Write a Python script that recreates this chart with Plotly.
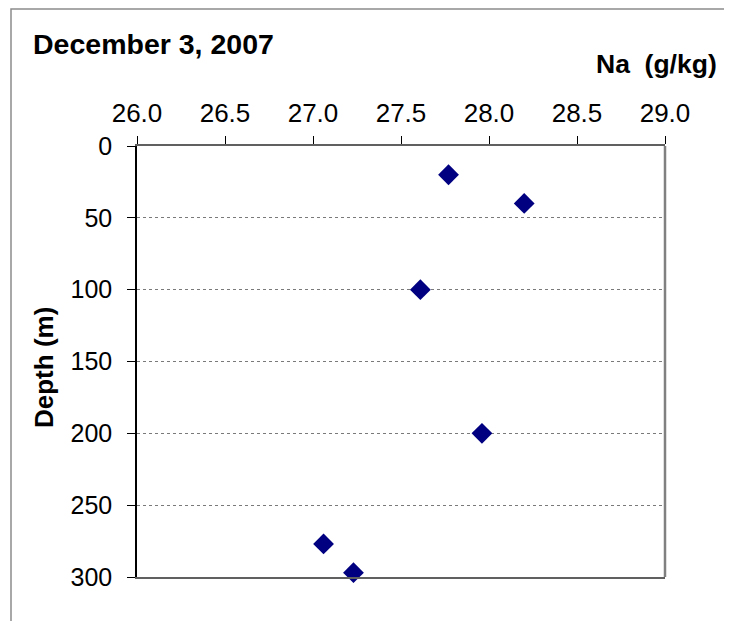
import plotly.graph_objects as go

# Data
na_values = [27.77, 28.20, 27.61, 27.96, 27.06, 27.23]
depth_values = [20, 40, 100, 200, 277, 297]
x_ticks = [26.0, 26.5, 27.0, 27.5, 28.0, 28.5, 29.0]
y_ticks = [0, 50, 100, 150, 200, 250, 300]
title_text = "December 3, 2007"
x_title = "Na\u00a0 (g/kg)"
y_title = "Depth (m)"

OFF = 8  # page body margin
W, H = 732 - OFF, 621 - OFF
# plot area in reference page pixels
PL, PR, PT, PB = 137, 665, 146, 577
L, T = PL - OFF, PT - OFF
R, B = W - (PR - OFF), H - (PB - OFF)
pw, ph = PR - PL, PB - PT

def px(xp):
    return (xp - PL) / pw

def py(yp):
    return (PB - yp) / ph

FONT = "Liberation Sans, Arial, sans-serif"

fig = go.Figure()
fig.add_trace(go.Scatter(
    x=na_values, y=depth_values, mode="markers",
    marker=dict(symbol="diamond", size=16, color="#000080", line=dict(width=0)),
    cliponaxis=False, showlegend=False,
))

fig.update_layout(
    width=W, height=H,
    margin=dict(l=L, r=R, t=T, b=B, pad=0),
    paper_bgcolor="white", plot_bgcolor="white",
    font=dict(family=FONT, size=25, color="black"),
    title=dict(text="<b>" + title_text + "</b>", x=(33 - OFF) / W, xanchor="left",
               y=1 - (44 - OFF) / H, yanchor="middle",
               font=dict(family=FONT, size=28.5, color="black")),
    xaxis=dict(side="top", range=[26, 29], tickvals=x_ticks,
               ticktext=[f"{v:.1f}" for v in x_ticks],
               showgrid=False, zeroline=False,
               showline=True, linecolor="#606060", linewidth=2, mirror=True,
               ticks="outside", ticklen=8, tickcolor="black", tickwidth=1,
               ticklabelstandoff=4,
               tickfont=dict(family=FONT, size=26, color="black")),
    yaxis=dict(range=[300, 0], tickvals=y_ticks,
               showgrid=True, gridcolor="#7a7a7a", griddash="dot", gridwidth=1,
               zeroline=False,
               showline=True, linecolor="black", linewidth=1.5, mirror=False,
               ticks="outside", ticklen=8, tickcolor="black", tickwidth=1,
               ticklabelstandoff=10,
               tickfont=dict(family=FONT, size=25, color="black")),
    shapes=[
        dict(type="line", xref="paper", yref="paper", x0=1, x1=1, y0=0, y1=1,
             line=dict(color="#808080", width=2.5), layer="between"),
        dict(type="rect", xref="paper", yref="paper",
             x0=px(11), x1=px(760), y0=py(660), y1=py(9),
             line=dict(color="#8c8c8c", width=1.5), fillcolor="rgba(0,0,0,0)",
             layer="above"),
    ],
    annotations=[
        dict(text="<b>" + x_title + "</b>", xref="paper", yref="paper",
             x=px(719), y=py(64), xanchor="right", yanchor="middle",
             showarrow=False, font=dict(family=FONT, size=26.5, color="black")),
        dict(text="<b>" + y_title + "</b>", xref="paper", yref="paper",
             x=px(44), y=py(368), xanchor="center", yanchor="middle",
             textangle=-90, showarrow=False,
             font=dict(family=FONT, size=26, color="black")),
    ],
)

fig.write_html("out.html")
